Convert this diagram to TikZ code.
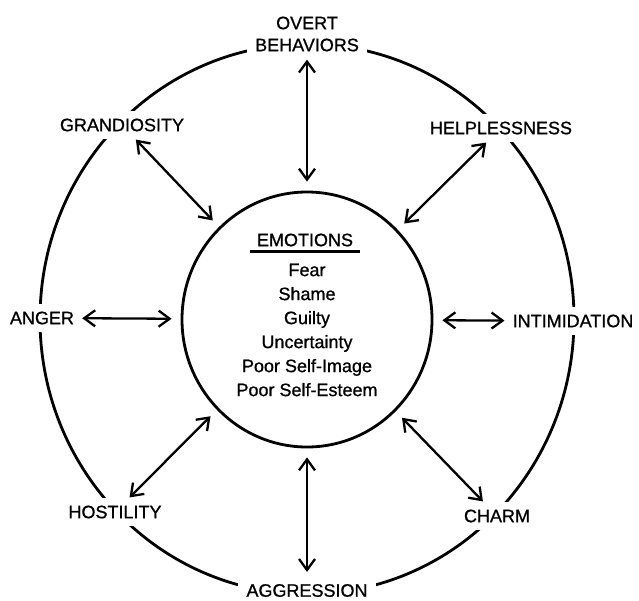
\documentclass[tikz,border=0pt]{standalone}
\usepackage{fontspec}
\setmainfont[FakeBold=0.9]{Liberation Sans}
\usetikzlibrary{arrows.meta,shapes.geometric}
\begin{document}
\begin{tikzpicture}[x=1pt,y=-1pt,
  lab/.style={fill=white, inner sep=8pt, font=\fontsize{18}{22}\selectfont, align=center},
  rel/.style={line width=2.3pt, {Straight Barb[length=11pt,width=16pt]}-{Straight Barb[length=11pt,width=16pt]}, shorten >=9pt},
  ring/.style={line width=2.8pt},
  txt/.style={inner sep=0pt, font=\fontsize{18}{24}\selectfont, align=center}]
\useasboundingbox (0,0) rectangle (639,600);
\draw[ring] (307,319) ellipse [x radius=267pt, y radius=275pt];
\node[ring, draw, ellipse, minimum width=250pt, minimum height=255pt, inner sep=0pt] (emo) at (307,319.5) {};
\node[lab] (ob) at (307,34) {OVERT\\BEHAVIORS};
\node[lab] (gr) at (122,125) {GRANDIOSITY};
\node[lab] (he) at (501,128) {HELPLESSNESS};
\node[lab] (an) at (42,318) {ANGER};
\node[lab] (in) at (573,321) {INTIMIDATION};
\node[lab] (ho) at (115,512) {HOSTILITY};
\node[lab] (ch) at (497,516) {CHARM};
\node[lab] (ag) at (307,590.5) {AGGRESSION};
\node[txt] (eh) at (305,240) {EMOTIONS};
\draw[line width=2.2pt] ([xshift=-7pt,yshift=-5pt]eh.south west) -- ([xshift=7pt,yshift=-5pt]eh.south east);
\node[txt] (el) at (307,330) {Fear\\Shame\\Guilty\\Uncertainty\\Poor Self-Image\\Poor Self-Esteem};
\draw[rel] (ob) -- (emo);
\draw[rel] (gr) -- (emo);
\draw[rel] (he) -- (emo);
\draw[rel] (an) -- (emo);
\draw[rel] (in) -- (emo);
\draw[rel] (ho) -- (emo);
\draw[rel] (ch) -- (emo);
\draw[rel, shorten <=4pt] (ag) -- (emo);
\end{tikzpicture}
\end{document}
